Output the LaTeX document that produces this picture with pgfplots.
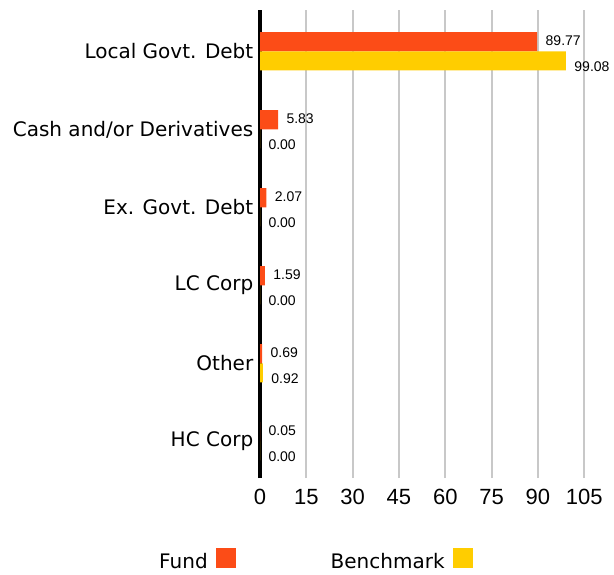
\documentclass[border=0pt]{standalone}
\usepackage{fontspec}
\setmainfont{Liberation Sans}
\newfontfamily\catfont{DejaVu Sans}
\usepackage{pgfplots}
\pgfplotsset{compat=1.18}
\definecolor{fundc}{HTML}{FC4C17}
\definecolor{benchc}{HTML}{FFCD00}
\definecolor{gridc}{HTML}{C8C8C8}
\begin{document}
\begin{tikzpicture}
\useasboundingbox (0,0) rectangle (614bp,575bp);
\begin{axis}[
 at={(260bp,97bp)}, anchor=south west,
 scale only axis, width=352bp, height=468bp,
 xbar, bar width=0.245,
 xmin=0, xmax=114, ymin=-0.47, ymax=5.53,
 ytick={0,...,5},
 yticklabels={HC Corp, Other, LC Corp, Ex. Govt. Debt, Cash and/or Derivatives, Local Govt. Debt},
 xtick={0,15,...,105},
 xmajorgrids, major grid style={draw=gridc, line width=2bp},
 axis x line*=bottom, axis y line*=left,
 x axis line style={draw=none}, y axis line style={black, line width=4bp, -},
 tick style={draw=none},
 /pgf/number format/assume math mode=true,
 xticklabel style={font=\fontsize{22bp}{26bp}\selectfont, yshift=-8bp},
 yticklabel style={font=\catfont\fontsize{20bp}{24bp}\selectfont, xshift=1bp},
 point meta=x,
 nodes near coords={\pgfmathprintnumber[fixed,fixed zerofill,precision=2]{\pgfplotspointmeta}},
 nodes near coords align=horizontal,
 every node near coord/.append style={font=\fontsize{14bp}{16bp}\selectfont, xshift=5bp, black},
 legend columns=2, legend plot pos=right,
 legend style={at={(0.156,-0.175)}, anchor=center, draw=none, fill=none,
   font=\catfont\fontsize{20bp}{24bp}\selectfont,
   /tikz/every even column/.append style={column sep=93bp}},
]
\addplot[fill=fundc, draw=none, bar shift=0.1225,
  every node near coord/.append style={yshift=1bp},
  legend image code/.code={\path (0bp,0bp); \fill[fundc] (6bp,-6bp) rectangle (26bp,14bp);}]
  coordinates {(89.77,5) (5.83,4) (2.07,3) (1.59,2) (0.69,1) (0.05,0)};
\addlegendentry{Fund}
\addplot[fill=benchc, draw=none, bar shift=-0.1225,
  every node near coord/.append style={yshift=-6bp},
  legend image code/.code={\path (0bp,0bp); \fill[benchc] (6bp,-6bp) rectangle (26bp,14bp);}]
  coordinates {(99.08,5) (0,4) (0,3) (0,2) (0.92,1) (0,0)};
\addlegendentry{Benchmark}
\end{axis}
\end{tikzpicture}
\end{document}
